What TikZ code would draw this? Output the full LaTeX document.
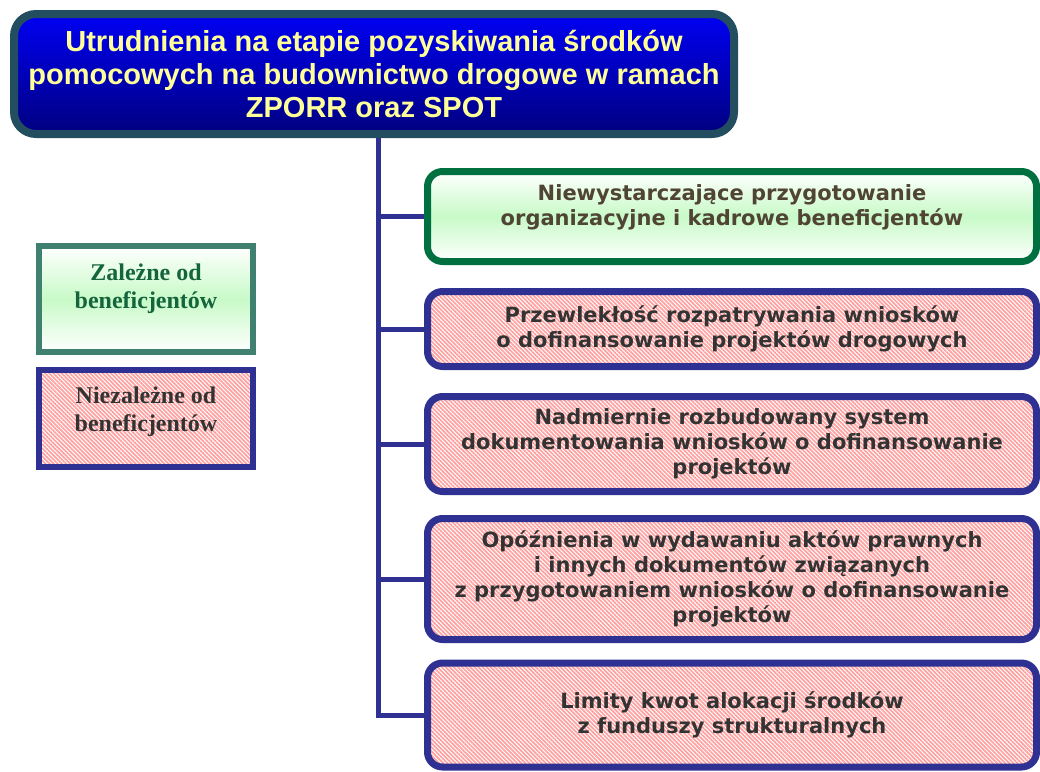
\documentclass[tikz,border=0pt]{standalone}
\usepackage{fontspec}
\usepackage{tikz}
\usetikzlibrary{calc,patterns.meta}
\newfontfamily\titlefont{Liberation Sans}
\newfontfamily\boxfont{DejaVu Sans}
\newfontfamily\legendfont{Liberation Serif}
\definecolor{titleborder}{RGB}{35,78,95}
\definecolor{titletext}{RGB}{255,255,153}
\definecolor{navyline}{RGB}{46,49,146}
\definecolor{greenborder}{RGB}{0,112,64}
\definecolor{legendborder}{RGB}{64,128,112}
\definecolor{legendtext}{RGB}{20,100,60}
\definecolor{browntext}{RGB}{80,68,52}
\definecolor{graytext}{RGB}{51,51,51}
\definecolor{hatchpink}{RGB}{255,160,160}
\definecolor{lightgreen}{RGB}{200,250,200}
\tikzset{
	greenbox/.style={draw=greenborder, line width=7pt, rounded corners=15pt, top color=white, bottom color=white, middle color=lightgreen, text=browntext, font=\boxfont\bfseries\fontsize{21}{25}\selectfont, align=center, inner sep=0pt},
	redbox/.style={draw=navyline, line width=7pt, rounded corners=15pt, pattern={Lines[angle=-45,distance=2.9pt,line width=1.7pt]}, pattern color=hatchpink, text=graytext, font=\boxfont\bfseries\fontsize{21}{25}\selectfont, align=center, inner sep=0pt},
	conn/.style={draw=navyline, line width=5pt},
}
\begin{document}
\begin{tikzpicture}[x=1pt, y=-1pt]
			%%%%% START %%%%%
			\useasboundingbox (0,0) rectangle (1040,771);
			\clip (0,0) rectangle (1040,771);
			
			% title
			\node[draw=titleborder, line width=8pt, rounded corners=22pt, top color=blue!95!black, bottom color=blue!50!black, minimum width=720pt, minimum height=120pt, inner sep=0pt, text=titletext, font=\titlefont\bfseries\fontsize{29}{33}\selectfont, align=center] (title) at (374, 74) {Utrudnienia na etapie pozyskiwania środków\\pomocowych na budownictwo drogowe w ramach\\ZPORR oraz SPOT};
			
			% legend
			\node[draw=legendborder, line width=6pt, top color=white, bottom color=white, middle color=lightgreen, minimum width=214pt, minimum height=106pt, inner sep=0pt, text=legendtext, font=\legendfont\bfseries\fontsize{24}{28}\selectfont, align=center] (dep) at (146, 299) {Zależne od\\beneficjentów\\[-2pt]};
			\node[draw=navyline, line width=6pt, pattern={Lines[angle=-45,distance=2.9pt,line width=1.7pt]}, pattern color=hatchpink, minimum width=214pt, minimum height=97pt, inner sep=0pt, text=graytext, font=\legendfont\bfseries\fontsize{24}{28}\selectfont, align=center] (indep) at (146, 418.5) {Niezależne od\\beneficjentów\\[-10pt]};
			
			% causes
			\node[greenbox, minimum width=609pt, minimum height=90pt] (b1) at (732, 216.5) {Niewystarczające przygotowanie\\organizacyjne i kadrowe beneficjentów\\[-3pt]};
			\node[redbox, minimum width=609pt, minimum height=75pt] (b2) at (732, 329) {Przewlekłość rozpatrywania wniosków\\o dofinansowanie projektów drogowych};
			\node[redbox, minimum width=609pt, minimum height=95pt] (b3) at (732, 444) {Nadmiernie rozbudowany system\\dokumentowania wniosków o dofinansowanie\\projektów};
			\node[redbox, minimum width=609pt, minimum height=121pt] (b4) at (732, 579) {Opóźnienia w wydawaniu aktów prawnych\\i innych dokumentów związanych\\z przygotowaniem wniosków o dofinansowanie\\projektów};
			\node[redbox, minimum width=609pt, minimum height=104pt] (b5) at (732, 715) {Limity kwot alokacji środków\\z funduszy strukturalnych};
			
			% connectors
			\coordinate (trunk) at ($(title.south)+(4,0)$);
			\foreach \b in {b1,b2,b3,b4,b5}
				\draw[conn] (trunk) |- (\b.west);
			
			%%%%% END %%%%%
		\end{tikzpicture}
\end{document}
